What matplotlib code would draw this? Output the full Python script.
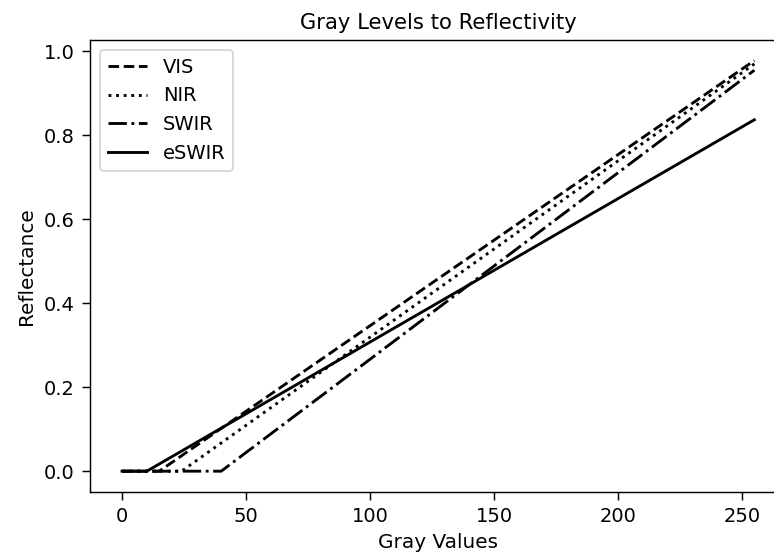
import matplotlib
matplotlib.use("Agg")
import matplotlib.pyplot as plt

# breakpoints of each calibration line: flat at 0, then linear up to 255
vis_x = [0, 15, 255]
vis_y = [0.0, 0.0, 0.978]

nir_x = [0, 24, 255]
nir_y = [0.0, 0.0, 0.970]

swir_x = [0, 40, 255]
swir_y = [0.0, 0.0, 0.955]

eswir_x = [0, 10, 255]
eswir_y = [0.0, 0.0, 0.837]

plt.rcParams["xtick.labelsize"] = 10.9
plt.rcParams["ytick.labelsize"] = 10.9
plt.rcParams["xtick.major.size"] = 4.5
plt.rcParams["ytick.major.size"] = 4.5
plt.rcParams["xtick.major.pad"] = 4.0
plt.rcParams["ytick.major.pad"] = 4.5

fig = plt.figure(figsize=(6.0, 558 / 129), dpi=129)
# the right edge of the axes runs past the picture, as in the original crop
ax = fig.add_axes([0.1168, 0.1188, 0.8987, 0.8095])

ax.plot(vis_x, vis_y, "k--", lw=1.6, label="VIS")
ax.plot(nir_x, nir_y, "k:", lw=1.6, label="NIR")
ax.plot(swir_x, swir_y, "k-.", lw=1.6, label="SWIR")
ax.plot(eswir_x, eswir_y, "k-", lw=1.6, label="eSWIR")

ax.set_title("Gray Levels to Reflectivity", fontsize=11.8)
ax.set_xlabel("Gray Values", fontsize=11.2)
ax.set_ylabel("Reflectance", fontsize=11.2)
ax.legend(loc="upper left", fontsize=10.9)

fig.savefig("out.png", dpi=129)
